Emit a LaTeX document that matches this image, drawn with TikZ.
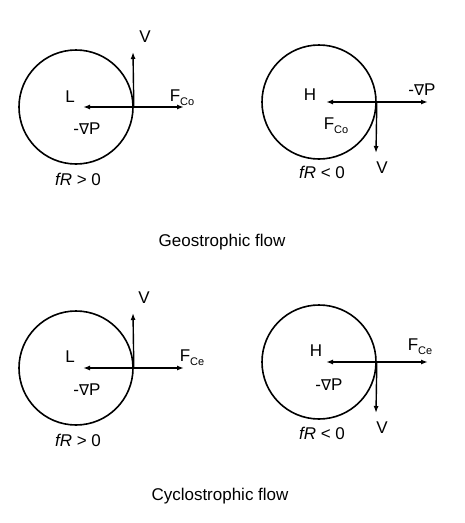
\documentclass[tikz,border=0pt]{standalone}
\usepackage{fontspec}
\setmainfont{Liberation Sans}
\newfontfamily\nablafont{DejaVu Sans}
\usetikzlibrary{positioning,arrows.meta}
\newcommand{\gradp}{-{\nablafont\fontsize{15}{17}\selectfont ∇}P}
\newcommand{\force}[1]{F\raisebox{-0.45ex}{\fontsize{11}{13}\selectfont #1}}

\begin{document}
\begin{tikzpicture}[x=1pt, y=-1pt, >={Latex[length=7pt,width=5pt]}, font=\fontsize{17}{20}\selectfont]
    \tikzstyle{vortex} = [circle, draw, line width=1.6pt, minimum size=114pt, inner sep=0pt]
    \tikzstyle{vec} = [->, line width=1.4pt]
    \tikzstyle{lbl} = [inner sep=1pt]
    \useasboundingbox (0,0) rectangle (464,523);

    % geostrophic, low
    \node [vortex] (gl) at (76,107) {};
    \coordinate (glin) at (83,107);
    \coordinate (glout) at (184,107);
    \coordinate (glup) at (133,52);
    \node [lbl] (glc) at (70,97) {L};
    \node [lbl] (glv) at (145,37) {V};
    \node [lbl] (glf) at (182,98) {\force{Co}};
    \node [lbl] (glp) at (87,129) {\gradp};
    \node [lbl] (glr) at (78,179) {\textit{fR} > 0};
    \draw [vec] (gl.east) -- (glin);
    \draw [vec] (gl.east) -- (glout);
    \draw [vec] (gl.east) -- (glup);

    % geostrophic, high
    \node [vortex] (gh) at (319,102) {};
    \coordinate (ghin) at (326,102);
    \coordinate (ghout) at (428,102);
    \coordinate (ghdown) at (376,153);
    \node [lbl] (ghc) at (310,95) {H};
    \node [lbl] (ghv) at (382,168) {V};
    \node [lbl] (ghp) at (422,90) {\gradp};
    \node [lbl] (ghf) at (336,126) {\force{Co}};
    \node [lbl] (ghr) at (322,172) {\textit{fR} < 0};
    \draw [vec] (gh.east) -- (ghin);
    \draw [vec] (gh.east) -- (ghout);
    \draw [vec] (gh.east) -- (ghdown);

    \node (geo) at (222,242) {Geostrophic flow};

    % cyclostrophic, low
    \node [vortex] (cl) at (76,368) {};
    \coordinate (clin) at (83,368);
    \coordinate (clout) at (184,368);
    \coordinate (clup) at (133,313);
    \node [lbl] (clc) at (70,357) {L};
    \node [lbl] (clv) at (144,298) {V};
    \node [lbl] (clf) at (192,358) {\force{Ce}};
    \node [lbl] (clp) at (87,390) {\gradp};
    \node [lbl] (clr) at (78,440) {\textit{fR} > 0};
    \draw [vec] (cl.east) -- (clin);
    \draw [vec] (cl.east) -- (clout);
    \draw [vec] (cl.east) -- (clup);

    % cyclostrophic, high
    \node [vortex] (ch) at (319,362) {};
    \coordinate (chin) at (326,362);
    \coordinate (chout) at (428,362);
    \coordinate (chdown) at (376,413);
    \node [lbl] (chc) at (316,351) {H};
    \node [lbl] (chv) at (382,428) {V};
    \node [lbl] (chf) at (420,347) {\force{Ce}};
    \node [lbl] (chp) at (329,385) {\gradp};
    \node [lbl] (chr) at (322,433) {\textit{fR} < 0};
    \draw [vec] (ch.east) -- (chin);
    \draw [vec] (ch.east) -- (chout);
    \draw [vec] (ch.east) -- (chdown);

    \node (cyc) at (220,496) {Cyclostrophic flow};
\end{tikzpicture}
\end{document}
